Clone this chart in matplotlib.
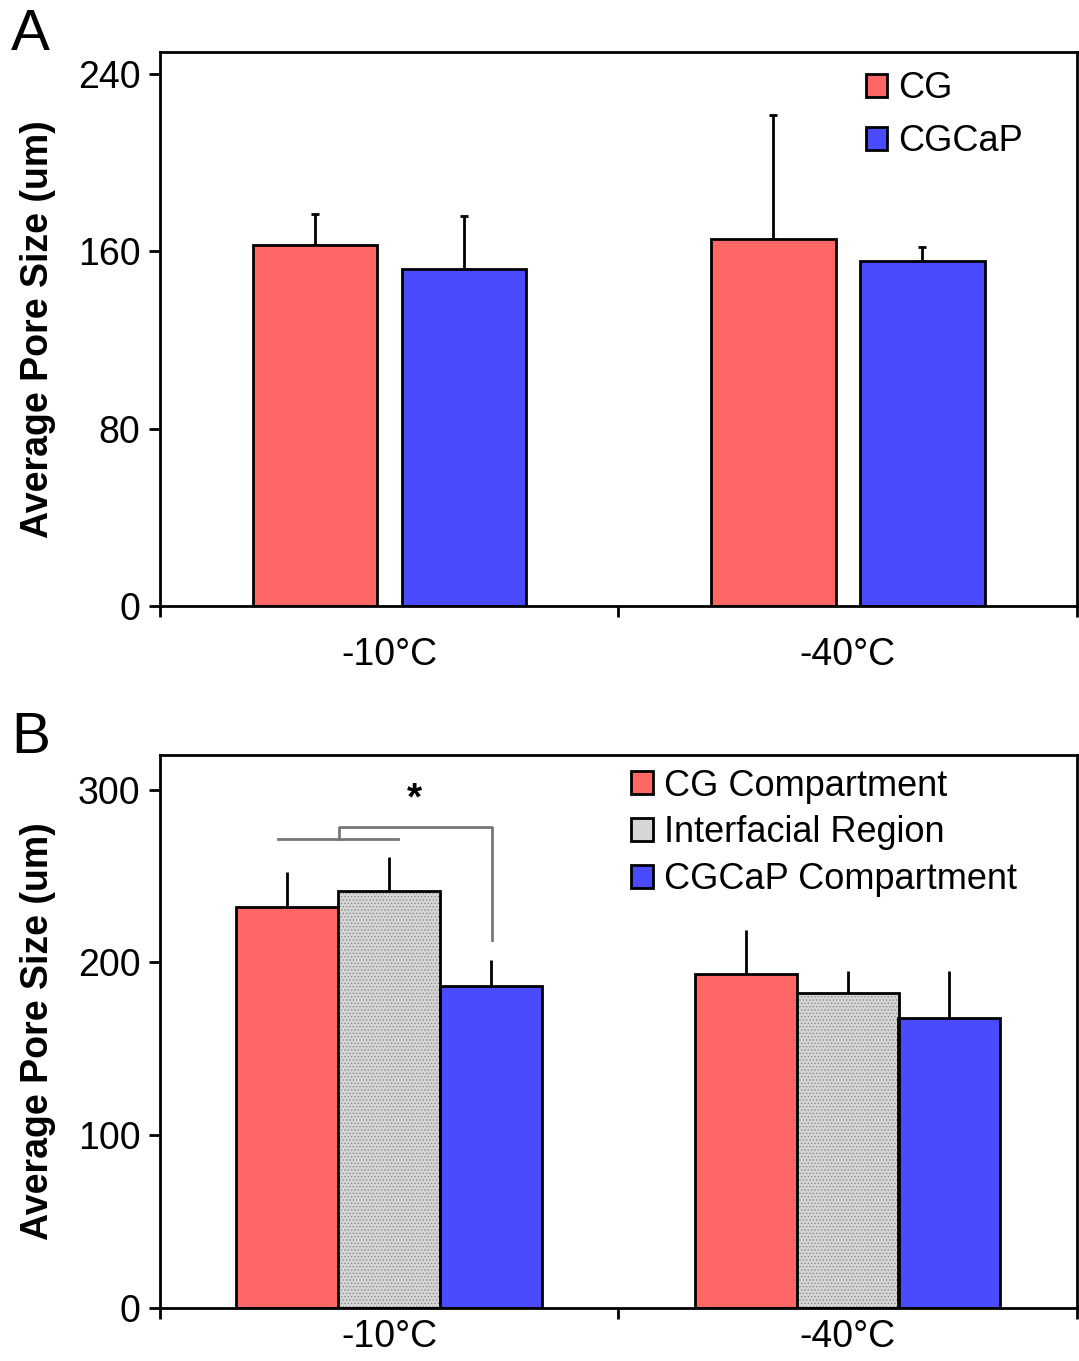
import numpy as np
import matplotlib
matplotlib.use('Agg')
import matplotlib.pyplot as plt
from matplotlib.patches import Patch

plt.rc('font', family='Liberation Sans')
plt.rc('hatch', linewidth=0.6)

temps = ['-10°C', '-40°C']

# panel A
a_series = ['CG', 'CGCaP']
a_means = [[163, 165.5], [152, 155.5]]
a_errs = [[14, 56], [24, 6.5]]

# panel B
b_series = ['CG Compartment', 'Interfacial Region', 'CGCaP Compartment']
b_means = [[232, 193.5], [241, 182], [186.5, 168]]
b_errs = [[20, 25], [20, 13], [15, 27]]

red = '#ff6666'
blue = '#4a4aff'
gray = '#d6d6d6'

fig = plt.figure(figsize=(10.79, 13.61), dpi=100)
axA = fig.add_axes([0.1483, 0.5547, 0.8497, 0.4071])
axB = fig.add_axes([0.1483, 0.0389, 0.8497, 0.4064])

x = np.arange(len(temps))


def style_axis(ax, ymax, yticks, xpad):
    ax.set_xlim(-0.5, 1.5)
    ax.set_ylim(0, ymax)
    ax.set_yticks(yticks)
    ax.set_xticks(x)
    ax.set_xticklabels(temps)
    ax.set_xticks([-0.5, 0.5, 1.5], minor=True)
    ax.tick_params(axis='x', which='major', length=0, labelsize=27, pad=xpad)
    ax.tick_params(axis='x', which='minor', length=8, width=2, direction='out')
    ax.tick_params(axis='y', length=8, width=2, direction='out', labelsize=27, pad=6)
    for s in ax.spines.values():
        s.set_linewidth(2)
    ax.set_ylabel('Average Pore Size (um)', fontsize=27, fontweight='bold', labelpad=16)


# ---- A ----
wA = 0.272
offA = [-0.162, 0.163]
colsA = [red, blue]
for i in range(2):
    axA.bar(x + offA[i], a_means[i], wA, color=colsA[i], edgecolor='black',
            linewidth=2, label=a_series[i], zorder=2)
    axA.errorbar(x + offA[i], a_means[i], yerr=[[0, 0], a_errs[i]], fmt='none',
                 ecolor='black', elinewidth=2, capsize=3, capthick=2, zorder=1)
style_axis(axA, 240 * (606 - 52) / 532, [0, 80, 160, 240], 22)
axA.legend(loc='upper left', bbox_to_anchor=(0.758, 0.985), frameon=False, fontsize=26,
           handlelength=0.6, handleheight=0.6, handletextpad=0.3, labelspacing=0.5,
           borderaxespad=0, borderpad=0.3)
fig.text(0.010, 0.963, 'A', fontsize=42)

# ---- B ----
wB = 0.2225
offB = [-0.222, 0.0, 0.222]
colsB = [red, gray, blue]
handles = []
for i in range(3):
    if i == 1:
        axB.bar(x + offB[i], b_means[i], wB, color=gray, edgecolor='#8a8a8a',
                linewidth=0, hatch='.....', zorder=2)
        axB.bar(x + offB[i], b_means[i], wB, fill=False, edgecolor='black',
                linewidth=2, zorder=3)
        handles.append(Patch(facecolor=gray, edgecolor='black', linewidth=2,
                             label=b_series[i]))
    else:
        axB.bar(x + offB[i], b_means[i], wB, color=colsB[i], edgecolor='black',
                linewidth=2, zorder=2)
        handles.append(Patch(facecolor=colsB[i], edgecolor='black', linewidth=2,
                             label=b_series[i]))
    axB.errorbar(x + offB[i], b_means[i], yerr=[[0, 0], b_errs[i]], fmt='none',
                 ecolor='black', elinewidth=2, capsize=0, zorder=1)
style_axis(axB, 320, [0, 100, 200, 300], 8)
axB.legend(handles=handles, loc='upper left', bbox_to_anchor=(0.502, 0.995),
           frameon=False, fontsize=26, handlelength=0.6, handleheight=0.6,
           handletextpad=0.3, labelspacing=0.33, borderaxespad=0, borderpad=0.3)
fig.text(0.010, 0.447, 'B', fontsize=42)

# significance bracket
bc = '#777777'
axB.plot([-0.243, 0.019], [271.6, 271.6], color=bc, lw=2)
axB.plot([-0.110, -0.110, 0.224, 0.224], [271.6, 278.6, 278.6, 213], color=bc, lw=2)
axB.text(0.056, 294, '*', ha='center', va='center', fontsize=28, fontweight='bold')

plt.savefig('out.png', dpi=100)
